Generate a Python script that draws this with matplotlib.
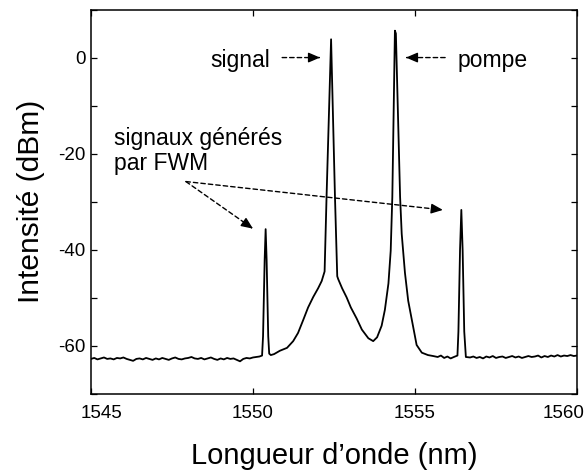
import numpy as np
import matplotlib.pyplot as plt
from matplotlib.transforms import ScaledTranslation

plt.rcParams['font.family'] = ['Liberation Sans', 'DejaVu Sans']

# noise floor read every 0.1 nm (dBm)
base_left_db = [-62.7, -62.5, -62.8, -62.6, -62.4, -62.7, -62.6, -62.8, -62.5, -62.6,
                -62.4, -62.7, -62.9, -63.1, -62.7, -62.6, -62.8, -62.5, -62.7, -62.9,
                -62.6, -62.8, -62.5, -62.7, -62.9, -62.6, -62.4, -62.7, -62.8, -62.6,
                -62.5, -62.3, -62.6, -62.7, -62.5, -62.8, -62.6, -62.4, -62.7, -62.9,
                -62.6, -62.8, -62.5, -62.7, -62.6, -62.9, -63.2, -62.7, -62.5, -62.6,
                -62.4, -62.3, -62.2]
base_mid_db = [-62.3, -62.0, -62.5, -62.2, -62.6, -62.3]
base_right_db = [-62.4, -62.2, -62.5, -62.3, -62.6, -62.2, -62.4, -62.1, -62.5, -62.3,
                 -62.2, -62.5, -62.3, -62.1, -62.4, -62.2, -62.5, -62.3, -62.1, -62.3,
                 -62.2, -62.0, -62.4, -62.1, -62.3, -62.0, -62.2, -61.9, -62.2, -62.0,
                 -62.1, -61.9, -62.1, -62.0]

# FWM idler 1
wl_fwm1 = [1550.28, 1550.31, 1550.36, 1550.39, 1550.42, 1550.47, 1550.50]
db_fwm1 = [-62.0, -58.0, -42.0, -35.7, -42.0, -58.0, -61.6]

# signal + pump with pedestal
wl_center = [1550.55, 1550.65, 1550.83, 1551.05, 1551.24, 1551.39, 1551.55, 1551.70,
             1551.86, 1552.01, 1552.12, 1552.21, 1552.27, 1552.41, 1552.53, 1552.60,
             1552.63, 1552.75, 1552.89, 1553.02, 1553.20, 1553.36, 1553.46, 1553.56,
             1553.71, 1553.83, 1553.97, 1554.07, 1554.18, 1554.25, 1554.30, 1554.38,
             1554.41, 1554.54, 1554.59, 1554.69, 1554.79, 1554.95, 1555.05, 1555.21,
             1555.40, 1555.56]
db_center = [-61.9, -61.7, -61.0, -60.4, -59.0, -57.3, -54.6, -52.0,
             -49.8, -48.0, -46.5, -44.5, -29.0, 3.8, -29.0, -45.5,
             -46.1, -48.0, -49.9, -52.0, -54.3, -56.6, -57.5, -58.4,
             -59.0, -58.2, -55.8, -52.5, -47.0, -40.2, -29.0, 5.6,
             5.0, -29.0, -36.7, -44.8, -50.6, -56.2, -59.8, -61.4,
             -61.9, -62.1]

# FWM idler 2
wl_fwm2 = [1556.31, 1556.34, 1556.39, 1556.43, 1556.47, 1556.52, 1556.57]
db_fwm2 = [-62.0, -57.0, -40.0, -31.7, -40.0, -57.0, -62.3]

wl = np.concatenate([np.arange(1545.0, 1550.25, 0.1), wl_fwm1, wl_center,
                     np.arange(1555.7, 1556.25, 0.1), wl_fwm2, np.arange(1556.7, 1560.05, 0.1)])
db = np.concatenate([base_left_db, db_fwm1, db_center, base_mid_db, db_fwm2, base_right_db])

fig = plt.figure(figsize=(5.86, 4.75), dpi=100)
ax = fig.add_axes([91 / 586, 1 - 394 / 475, 486 / 586, 384.5 / 475])
ax.plot(wl, db, color='black', lw=1.3)

ax.set_xlim(1545, 1560)
ax.set_ylim(-70, 10)
ax.set_xticks([1545, 1550, 1555, 1560])
ax.set_yticks(range(-70, 11, 10))
ax.set_yticklabels([str(v) if v % 20 == 0 else '' for v in range(-70, 11, 10)])
ax.tick_params(direction='in', length=4.5, width=0.9, top=True, right=True, labelsize=13.5)
ax.tick_params(axis='x', pad=8)
ax.tick_params(axis='y', pad=4)
for s in ax.spines.values():
    s.set_linewidth(1.1)

# edge labels are pulled inwards in the original
labels = ax.get_xticklabels()
labels[0].set_transform(labels[0].get_transform() + ScaledTranslation(11 / 100, 0, fig.dpi_scale_trans))
labels[-1].set_transform(labels[-1].get_transform() + ScaledTranslation(-13 / 100, 0, fig.dpi_scale_trans))

ax.set_xlabel('Longueur d\u2019onde (nm)', fontsize=21)
ax.set_ylabel('Intensité (dBm)', fontsize=21.5)
ax.xaxis.set_label_coords(0.5, -0.125)
ax.yaxis.set_label_coords(-0.095, 0.5)

dash = (0, (3.2, 2.2))


def dashed_arrow(start, end):
    ax.annotate('', xy=end, xytext=start,
                arrowprops=dict(arrowstyle='-', color='black', lw=1, linestyle=dash,
                                shrinkA=0, shrinkB=4))
    near = (end[0] + 0.03 * (start[0] - end[0]), end[1] + 0.03 * (start[1] - end[1]))
    ax.annotate('', xy=end, xytext=near,
                arrowprops=dict(arrowstyle='-|>,head_length=0.7,head_width=0.3',
                                color='black', lw=1, shrinkA=0, shrinkB=0))


ax.text(1550.52, -0.6, 'signal', ha='right', va='center', fontsize=16.5)
dashed_arrow((1550.90, 0), (1552.07, 0))
ax.text(1556.30, -0.6, 'pompe', ha='left', va='center', fontsize=16.5)
dashed_arrow((1555.93, 0), (1554.72, 0))
ax.text(1545.71, -19.4, 'signaux générés\npar FWM', ha='left', va='center',
        fontsize=16.5, linespacing=1.1)
dashed_arrow((1547.93, -25.8), (1550.0, -35.6))
dashed_arrow((1547.93, -25.8), (1555.86, -31.7))

fig.savefig('out.png', dpi=100)
